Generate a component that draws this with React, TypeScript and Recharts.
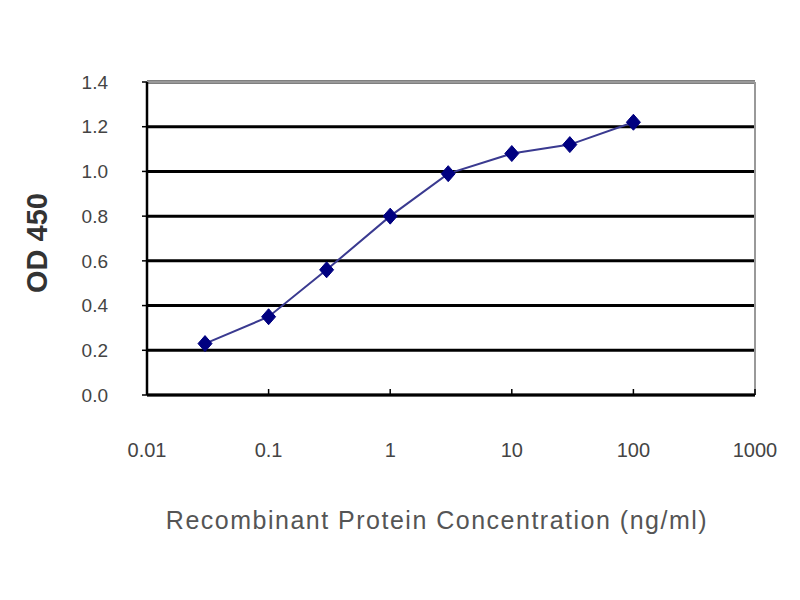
import React from 'react';
import { LineChart, Line, XAxis, YAxis, CartesianGrid, ReferenceLine, Label } from 'recharts';

// concentrations in ng/ml and the OD 450 readings
const concentrations = [0.03, 0.1, 0.3, 1, 3, 10, 30, 100];
const od450 = [0.23, 0.35, 0.56, 0.8, 0.99, 1.08, 1.12, 1.22];
const xTicks = [0.01, 0.1, 1, 10, 100, 1000];
const yTicks = [0, 0.2, 0.4, 0.6, 0.8, 1.0, 1.2, 1.4];

const data = concentrations.map((c, i) => ({ conc: c, od: od450[i] }));

const FONT = '"Liberation Sans", Arial, sans-serif';

const Diamond = (props: any) => {
  const { cx, cy } = props;
  if (cx == null || cy == null) return null;
  return (
    <polygon
      points={`${cx},${cy - 8} ${cx + 7},${cy} ${cx},${cy + 8} ${cx - 7},${cy}`}
      fill="#000080"
      stroke="#000080"
    />
  );
};

const YTitle = () => (
  <text
    x={37}
    y={243}
    transform="rotate(-90 37 243)"
    textAnchor="middle"
    dominantBaseline="central"
    fontFamily={FONT}
    fontSize={29}
    fontWeight="bold"
    fill="#333"
  >
    OD 450
  </text>
);

const XTitle = () => (
  <text
    x={437}
    y={520}
    textAnchor="middle"
    dominantBaseline="central"
    fontFamily={FONT}
    fontSize={25}
    letterSpacing={1.5}
    fill="#555"
  >
    Recombinant Protein Concentration (ng/ml)
  </text>
);

const App: React.FC = () => {
  return (
    <div style={{ position: 'absolute', left: 0, top: 0, width: 800, height: 600, background: '#fff' }}>
      <LineChart width={800} height={600} data={data} margin={{ top: 82, right: 45, bottom: 125, left: 0 }}>
        <CartesianGrid vertical={false} stroke="#000" strokeWidth={3} />
        <XAxis
          dataKey="conc"
          type="number"
          scale="log"
          domain={[0.01, 1000]}
          ticks={xTicks}
          height={80}
          axisLine={{ stroke: '#000', strokeWidth: 2.5 }}
          tickLine={{ stroke: '#000', strokeWidth: 1.5 }}
          tickSize={-6}
          tickMargin={54}
          tick={{ fontFamily: FONT, fontSize: 20, fill: '#444' }}
        >
          <Label content={<XTitle />} />
        </XAxis>
        <YAxis
          type="number"
          domain={[0, 1.4]}
          ticks={yTicks}
          width={147}
          axisLine={{ stroke: '#000', strokeWidth: 2.5 }}
          tickLine={{ stroke: '#000', strokeWidth: 1.5 }}
          tickSize={5}
          tickMargin={34}
          tickFormatter={(v: number) => v.toFixed(1)}
          tick={{ fontFamily: FONT, fontSize: 19, fill: '#444' }}
        >
          <Label content={<YTitle />} />
        </YAxis>
        <ReferenceLine y={1.4} stroke="#999" strokeWidth={2} />
        <ReferenceLine x={1000} stroke="#999" strokeWidth={2} />
        <Line
          type="linear"
          dataKey="od"
          stroke="#3a3a90"
          strokeWidth={2}
          dot={<Diamond />}
          activeDot={false}
          isAnimationActive={false}
        />
      </LineChart>
    </div>
  );
};

export default App;
